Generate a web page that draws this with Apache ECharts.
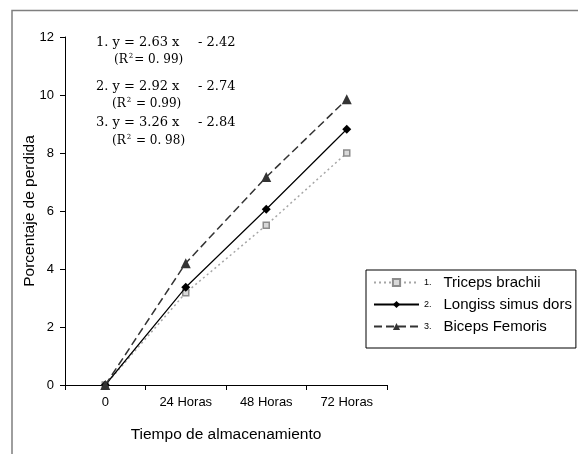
<!DOCTYPE html>
<html>
<head>
<meta charset="utf-8">
<script src="https://cdn.jsdelivr.net/npm/echarts@6/dist/echarts.min.js"></script>
<style>
html,body{margin:0;padding:0;background:#fff;}
#chart{width:578px;height:454px;}
</style>
</head>
<body>
<div id="chart"></div>
<script>
var categories = ['0', '24 Horas', '48 Horas', '72 Horas'];
var seriesNames = ['Triceps brachii', 'Longiss simus dors', 'Biceps Femoris'];
var triceps = [0, 3.18, 5.51, 8.0];
var longiss = [0, 3.37, 6.06, 8.82];
var biceps = [0, 4.2, 7.17, 9.85];
var yTicks = [0, 2, 4, 6, 8, 10, 12];
var equations = ['1. y = 2.63 x', '2. y = 2.92 x', '3. y = 3.26 x'];
var intercepts = ['- 2.42', '- 2.74', '- 2.84'];
var r2Labels = ['(R{s|2}= 0. 99)', '(R{s|2} = 0.99)', '(R{s|2} = 0. 98)'];

var chart = echarts.init(document.getElementById('chart'), null, {renderer: 'canvas'});
var serif = 'DejaVu Serif';
var sans = 'Liberation Sans, Arial, sans-serif';

var eqY = [44, 88, 124];
var r2Y = [61, 105, 142];
var r2X = [114, 112, 112];
var graphics = [{
  type: 'rect', z: -1, silent: true,
  shape: {x: 12, y: 10.5, width: 620, height: 520},
  style: {fill: 'none', stroke: '#7f7f7f', lineWidth: 1.5}
}];
for (var i = 0; i < equations.length; i++) {
  graphics.push({type: 'text', left: 96, top: eqY[i] - 8,
    style: {text: equations[i], font: '13px ' + serif, fill: '#000'}});
  graphics.push({type: 'text', left: 198, top: eqY[i] - 8,
    style: {text: intercepts[i], font: '13px ' + serif, fill: '#000'}});
  graphics.push({type: 'text', left: r2X[i], top: r2Y[i] - 8,
    style: {text: r2Labels[i], font: '12px ' + serif, fill: '#000',
      rich: {s: {fontSize: 7, fontFamily: serif, verticalAlign: 'top', padding: [0, 1, 6, 1]}}}});
}

var option = {
  backgroundColor: '#fff',
  animation: false,
  grid: {left: 65, right: 191, top: 37, bottom: 69},
  legend: {
    orient: 'vertical',
    left: 366, top: 270,
    padding: [5, 4, 14, 7],
    itemGap: 7,
    itemWidth: 45, itemHeight: 9,
    borderColor: '#000', borderWidth: 1,
    data: seriesNames,
    formatter: function (name) {
      return '{n|' + (seriesNames.indexOf(name) + 1) + '.}{t|' + name + '}';
    },
    textStyle: {
      color: '#000',
      rich: {
        n: {fontSize: 9, fontFamily: sans, color: '#000', lineHeight: 14, padding: [0, 12, 0, 0]},
        t: {fontSize: 15, fontFamily: sans, color: '#000', lineHeight: 14}
      }
    }
  },
  xAxis: {
    type: 'category',
    data: categories,
    boundaryGap: true,
    name: 'Tiempo de almacenamiento',
    nameLocation: 'middle',
    nameGap: 42,
    nameMoveOverlap: false,
    nameTextStyle: {fontSize: 15.5, fontFamily: sans, color: '#000'},
    axisLine: {lineStyle: {color: '#000', width: 1}},
    axisTick: {show: true, length: 5, alignWithLabel: false, lineStyle: {color: '#000'}},
    axisLabel: {fontSize: 13, fontFamily: sans, color: '#000', margin: 11},
    splitLine: {show: false}
  },
  yAxis: {
    type: 'value',
    min: yTicks[0], max: yTicks[yTicks.length - 1], interval: 2,
    name: 'Porcentaje de perdida',
    nameLocation: 'middle',
    nameGap: 27,
    nameMoveOverlap: false,
    nameTextStyle: {fontSize: 15.5, fontFamily: sans, color: '#000'},
    axisLine: {show: true, lineStyle: {color: '#000', width: 1}},
    axisTick: {show: true, length: 5, lineStyle: {color: '#000'}},
    axisLabel: {fontSize: 13, fontFamily: sans, color: '#000', margin: 11},
    splitLine: {show: false}
  },
  series: [
    {
      name: seriesNames[0], type: 'line', data: triceps,
      symbol: 'rect', symbolSize: 6, showAllSymbol: true,
      lineStyle: {color: '#a6a6a6', width: 1.5, type: [2, 3]},
      itemStyle: {color: '#d9d9d9', borderColor: '#8c8c8c', borderWidth: 1.5},
      z: 2
    },
    {
      name: seriesNames[1], type: 'line', data: longiss,
      symbol: 'diamond', symbolSize: 9,
      lineStyle: {color: '#000', width: 1.2, type: 'solid'},
      itemStyle: {color: '#000'},
      z: 3
    },
    {
      name: seriesNames[2], type: 'line', data: biceps,
      symbol: 'triangle', symbolSize: 10,
      lineStyle: {color: '#333', width: 1.5, type: [8, 4]},
      itemStyle: {color: '#333'},
      z: 4
    }
  ],
  graphic: graphics
};
chart.setOption(option);
</script>
</body>
</html>
